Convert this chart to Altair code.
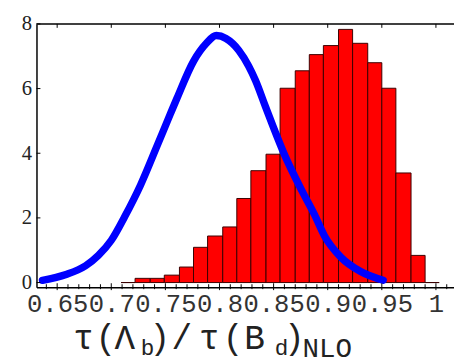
import altair as alt
import pandas as pd

# ---- data ----
bin_left = [0.709, 0.722, 0.736, 0.749, 0.763, 0.776, 0.789, 0.803, 0.816, 0.829, 0.843,
            0.856, 0.870, 0.883, 0.896, 0.910, 0.923, 0.937, 0.950, 0.963, 0.977, 0.990]
bin_right = bin_left[1:] + [1.003]
bin_height = [0.0, 0.13, 0.13, 0.23, 0.48, 1.09, 1.44, 1.72, 2.60, 3.46, 3.97,
              6.01, 6.55, 7.05, 7.33, 7.83, 7.40, 6.80, 6.01, 3.39, 0.84, 0.0]

curve_x = [0.6364, 0.6582, 0.6763, 0.6881, 0.6999, 0.7126, 0.7271, 0.7426, 0.7544, 0.7607,
           0.7761, 0.7879, 0.7970, 0.8060, 0.8179, 0.8269, 0.8333, 0.8424, 0.8487, 0.8605,
           0.8760, 0.8878, 0.8969, 0.9123, 0.9304, 0.9513]
curve_y = [0.07, 0.25, 0.52, 0.84, 1.30, 2.05, 3.02, 4.25, 5.20, 5.70,
           6.85, 7.40, 7.64, 7.55, 7.18, 6.70, 6.25, 5.45, 4.90, 3.92,
           2.85, 2.10, 1.45, 0.78, 0.34, 0.07]

x_major = [0.65, 0.7, 0.75, 0.8, 0.85, 0.9, 0.95, 1.0]
x_minor = [0.64, 0.66, 0.67, 0.68, 0.69, 0.71, 0.72, 0.73, 0.74, 0.76, 0.77, 0.78, 0.79,
           0.81, 0.82, 0.83, 0.84, 0.86, 0.87, 0.88, 0.89, 0.91, 0.92, 0.93, 0.94,
           0.96, 0.97, 0.98, 0.99, 1.01]
y_major = [0, 2, 4, 6, 8]

W, H = 425, 268
OX, OY = 37, 21  # page position of the view's top-left corner

xs = alt.Scale(domain=[0.6309, 1.0167], nice=False, zero=False)
ys = alt.Scale(domain=[-0.143, 8], nice=False, zero=False)

hist = pd.DataFrame({"x": bin_left, "x2": bin_right, "h": bin_height,
                     "z": [0.0] * len(bin_left)})
curve = pd.DataFrame({"x": curve_x, "y": curve_y})

bars = alt.Chart(hist).mark_rect(fill="#ff0000", stroke="#3a0000", strokeWidth=1).encode(
    x=alt.X("x:Q", scale=xs,
            axis=alt.Axis(values=x_major, format="~g", title=None, ticks=False, tickSize=0,
                          labelFont="Liberation Mono", labelFontSize=26, labelColor="#333",
                          labelPadding=4, labelOverlap=False, labelFlush=False,
                          domainColor="black", domainWidth=1.5, grid=False)),
    x2="x2:Q",
    y=alt.Y("h:Q", scale=ys,
            axis=alt.Axis(values=y_major, title=None, ticks=False, tickSize=0,
                          labelFont="Liberation Serif", labelFontSize=21, labelColor="#222",
                          labelPadding=5, domainColor="black", domainWidth=1.5, grid=False)),
    y2="z:Q",
)

line = alt.Chart(curve).mark_line(color="#0000ff", strokeWidth=7.5, strokeCap="round",
                                  strokeJoin="round", interpolate="monotone").encode(
    x=alt.X("x:Q", scale=xs), y=alt.Y("y:Q", scale=ys))

top_line = alt.Chart(pd.DataFrame({"a": [0]})).mark_rule(color="black", strokeWidth=1.5).encode(
    x=alt.value(0), x2=alt.value(W), y=alt.value(0))

top_ticks = alt.Chart(pd.DataFrame({"t": x_major})).mark_rule(color="black", strokeWidth=1).encode(
    x=alt.X("t:Q", scale=xs), y=alt.value(0), y2=alt.value(4))

bot_major = alt.Chart(pd.DataFrame({"t": x_major})).mark_rule(color="black", strokeWidth=1).encode(
    x=alt.X("t:Q", scale=xs), y=alt.value(H - 4), y2=alt.value(H + 3))

bot_minor = alt.Chart(pd.DataFrame({"t": x_minor})).mark_rule(color="black", strokeWidth=1).encode(
    x=alt.X("t:Q", scale=xs), y=alt.value(H - 3), y2=alt.value(H + 2))

left_ticks = alt.Chart(pd.DataFrame({"t": y_major})).mark_rule(color="black", strokeWidth=1).encode(
    y=alt.Y("t:Q", scale=ys), x=alt.value(0), x2=alt.value(4))


def piece(s, cx, base, size):
    return alt.Chart(pd.DataFrame({"t": [s]})).mark_text(
        font="Liberation Mono", fontSize=size, align="center", baseline="alphabetic",
        color="#222").encode(text="t:N", x=alt.value(cx - OX), y=alt.value(base - OY))


MAIN = 35
SUB = 23
title_layers = [
    piece("τ", 85, 352, MAIN),
    piece("(", 107.5, 352, MAIN),
    piece("Λ", 127, 352, MAIN),
    piece("b", 150, 358, SUB),
    piece(")", 162.5, 352, MAIN),
    piece("/", 185, 352, MAIN),
    piece("τ", 213, 352, MAIN),
    piece("(", 237, 352, MAIN),
    piece("B", 259, 352, MAIN),
    piece("d", 286.5, 358, SUB),
    piece(")", 299.5, 352, MAIN),
    piece("NLO", 333, 360, 28),
]

chart = alt.layer(bars, line, top_line, top_ticks, bot_major, bot_minor, left_ticks,
                  *title_layers).properties(
    width=W, height=H,
    autosize=alt.AutoSizeParams(type="none"),
    padding={"left": OX - 8, "top": OY - 8, "right": 0, "bottom": 364 - 8 - (OY - 8) - H},
    background="white",
).configure_view(stroke=None)

chart.save("out.html", embed_options={"renderer": "svg", "actions": False})
